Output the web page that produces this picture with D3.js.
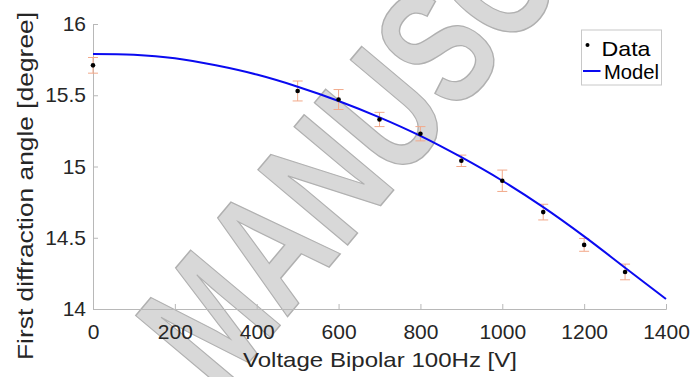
<!DOCTYPE html>
<html>
<head>
<meta charset="utf-8">
<script src="https://cdn.jsdelivr.net/npm/d3@7"></script>
<style>
  body { margin: 0; background: #fff; }
  svg { display: block; font-family: "Liberation Sans", Arial, sans-serif; }
</style>
</head>
<body>
<div id="chart"></div>
<script>
// measured data (voltage in V, angle in degree)
var voltage = [0, 500, 600, 700, 800, 900, 1000, 1100, 1200, 1300];
var angle = [15.71, 15.53, 15.47, 15.33, 15.23, 15.04, 14.90, 14.68, 14.45, 14.26];
var angleErr = [0.055, 0.07, 0.07, 0.05, 0.05, 0.04, 0.075, 0.055, 0.045, 0.055];

// model curve
var modelVoltage = [0, 100, 200, 300, 400, 500, 600, 700, 800, 900, 1000, 1100, 1200, 1300, 1400];
var modelAngle = [15.79, 15.785, 15.76, 15.71, 15.645, 15.56, 15.46, 15.345, 15.215, 15.065, 14.90, 14.715, 14.51, 14.29, 14.07];

var xTicks = [0, 200, 400, 600, 800, 1000, 1200, 1400];
var yTicks = [14, 14.5, 15, 15.5, 16];

var w = 693, h = 377;
var mLeft = 93, mRight = 666, mTop = 24, mBottom = 309;

var svg = d3.select('#chart').append('svg')
    .attr('width', w)
    .attr('height', h);

var x = d3.scaleLinear().domain([0, 1400]).range([mLeft, mRight]);
var y = d3.scaleLinear().domain([14, 16]).range([mBottom, mTop]);

// watermark behind everything (condensed, tilted)
svg.append('text')
    .attr('transform', 'translate(220,397) rotate(-50) scale(0.72,1)')
    .attr('font-size', 170)
    .attr('font-weight', 'bold')
    .attr('fill', '#d8d8d8')
    .attr('stroke', '#b0b0b0')
    .attr('stroke-width', 1.5)
    .text('MANUSCRIPT');

var axisColor = '#b8b8b8', textColor = '#262626';

// axes, ticks pointing inward
var xAxis = svg.append('g')
    .attr('transform', 'translate(0,' + mBottom + ')')
    .call(d3.axisBottom(x).tickValues(xTicks).tickSize(-5).tickPadding(15).tickFormat(d3.format('d')));
var yAxis = svg.append('g')
    .attr('transform', 'translate(' + mLeft + ',0)')
    .call(d3.axisLeft(y).tickValues(yTicks).tickSize(-5).tickPadding(7).tickFormat(function(d) { return String(d); }));

[xAxis, yAxis].forEach(function(a) {
    a.select('.domain').attr('stroke', axisColor);
    a.selectAll('.tick line').attr('stroke', axisColor);
    a.selectAll('.tick text').attr('fill', textColor).attr('font-size', 21)
        .attr('font-family', '"Liberation Sans", Arial, sans-serif');
});

// axis titles
svg.append('text')
    .attr('x', 243)
    .attr('y', 367)
    .attr('font-size', 21)
    .attr('textLength', 274)
    .attr('lengthAdjust', 'spacingAndGlyphs')
    .attr('fill', textColor)
    .text('Voltage Bipolar 100Hz [V]');

svg.append('text')
    .attr('transform', 'translate(32.5,186) rotate(-90)')
    .attr('text-anchor', 'middle')
    .attr('font-size', 22)
    .attr('textLength', 348)
    .attr('lengthAdjust', 'spacingAndGlyphs')
    .attr('fill', textColor)
    .text('First diffraction angle [degree]');

// error bars
var pts = voltage.map(function(v, i) { return { v: v, a: angle[i], e: angleErr[i] }; });
var eb = svg.append('g').attr('stroke', '#f2a98a').attr('stroke-width', 1);
pts.forEach(function(d) {
    var cx = x(d.v), y1 = y(d.a + d.e), y2 = y(d.a - d.e);
    eb.append('line').attr('x1', cx).attr('x2', cx).attr('y1', y1).attr('y2', y2);
    eb.append('line').attr('x1', cx - 5).attr('x2', cx + 5).attr('y1', y1).attr('y2', y1);
    eb.append('line').attr('x1', cx - 5).attr('x2', cx + 5).attr('y1', y2).attr('y2', y2);
});

// model line
var line = d3.line()
    .x(function(d) { return x(d[0]); })
    .y(function(d) { return y(d[1]); })
    .curve(d3.curveCatmullRom);
svg.append('path')
    .datum(modelVoltage.map(function(v, i) { return [v, modelAngle[i]]; }))
    .attr('d', line)
    .attr('fill', 'none')
    .attr('stroke', '#0a0af0')
    .attr('stroke-width', 2);

// data points
svg.selectAll('circle.pt')
    .data(pts)
    .enter()
    .append('circle')
    .attr('class', 'pt')
    .attr('cx', function(d) { return x(d.v); })
    .attr('cy', function(d) { return y(d.a); })
    .attr('r', 2.3)
    .attr('fill', '#000');

// legend
var lg = svg.append('g').attr('transform', 'translate(581.5,30)');
lg.append('rect').attr('width', 80).attr('height', 55)
    .attr('fill', '#fff').attr('stroke', '#c8c8c8').attr('stroke-width', 1);
lg.append('circle').attr('cx', 6).attr('cy', 15).attr('r', 2).attr('fill', '#000');
lg.append('text').attr('x', 20).attr('y', 25.5).attr('font-size', 21)
    .attr('textLength', 49).attr('lengthAdjust', 'spacingAndGlyphs')
    .attr('fill', '#000').text('Data');
lg.append('line').attr('x1', 1.5).attr('x2', 19).attr('y1', 41).attr('y2', 41)
    .attr('stroke', '#0a0af0').attr('stroke-width', 2);
lg.append('text').attr('x', 22.5).attr('y', 48.5).attr('font-size', 21)
    .attr('textLength', 55).attr('lengthAdjust', 'spacingAndGlyphs')
    .attr('fill', '#000').text('Model');
</script>
</body>
</html>
